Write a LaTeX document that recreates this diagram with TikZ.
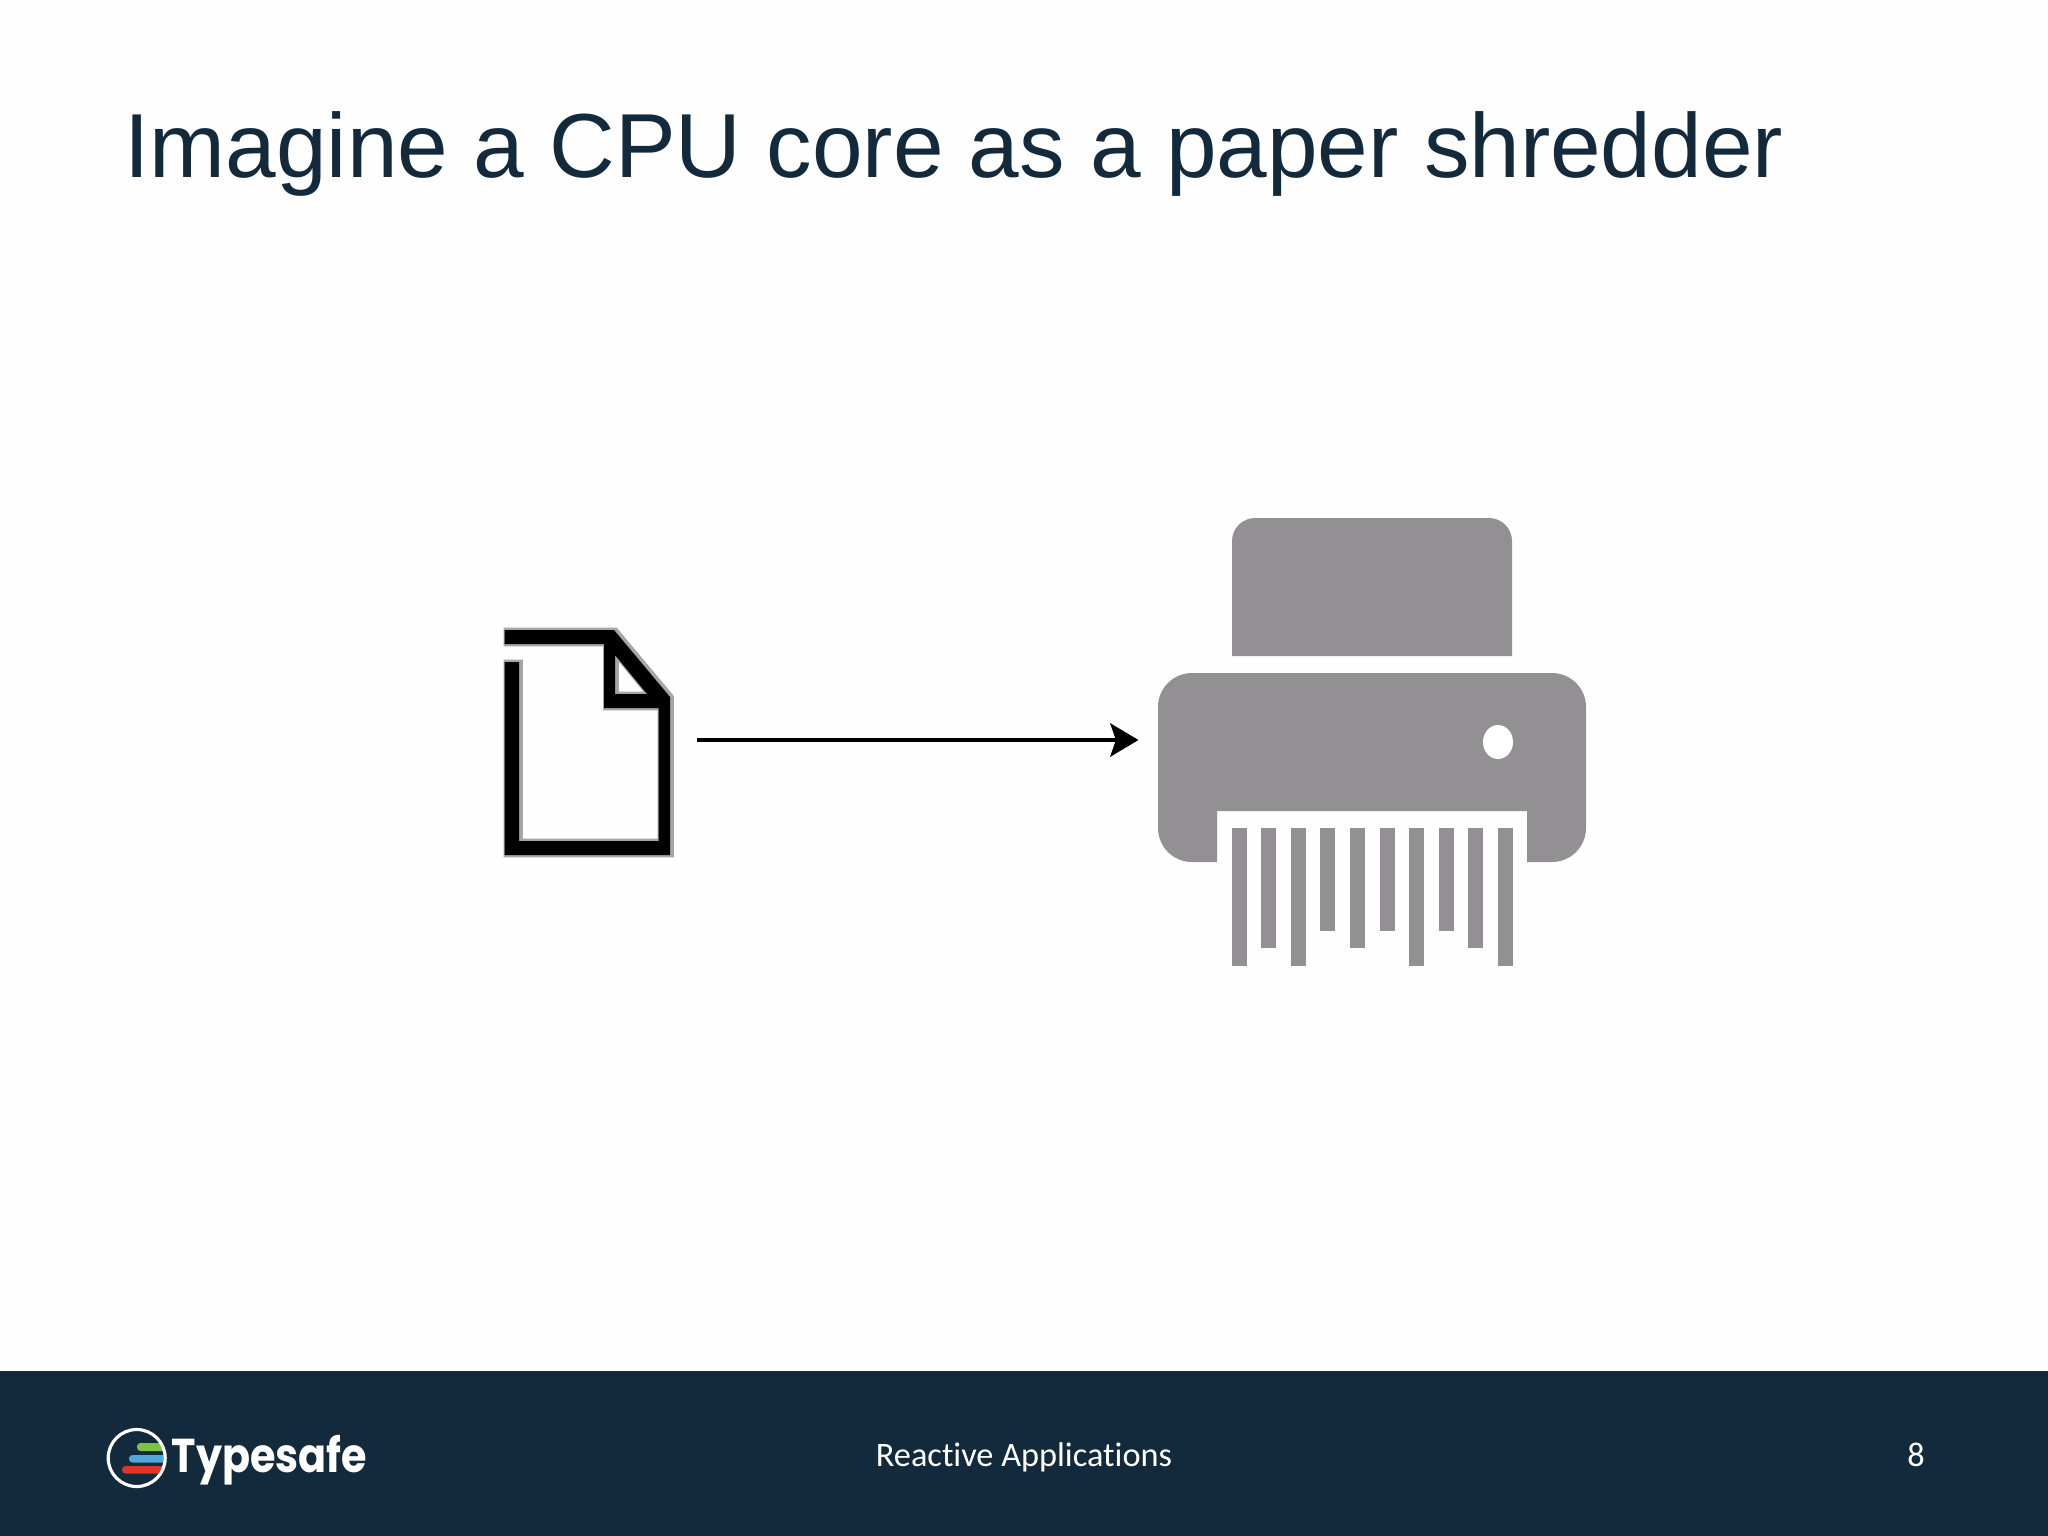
\documentclass[tikz,border=0pt]{standalone}
\usepackage{fontspec}
\usepackage{tikz}
\usetikzlibrary{arrows.meta,calc,positioning}
\setmainfont{Liberation Sans}
\newfontfamily\footfont[Ligatures=NoCommon]{Carlito}
\newfontfamily\logofont{Poppins}
\definecolor{navy}{HTML}{132A3D}
\definecolor{shred}{HTML}{929093}
\definecolor{paper}{HTML}{FEFEFE}
\definecolor{logogreen}{HTML}{7DC242}
\definecolor{logoblue}{HTML}{4FA8D8}
\definecolor{logored}{HTML}{E0352B}
\newcommand{\pagepath}{(504.5,630) -- (614,630) -- (670,697) -- (670,855) -- (504.5,855)
    -- (504.5,662) -- (519,662) -- (519,841) -- (658.5,841) -- (658.5,708) -- (604,708)
    -- (604,644) -- (504.5,644) -- cycle
    (615,655) -- (647,694) -- (615,694) -- cycle}

\begin{document}
\begin{tikzpicture}[x=0.01cm,y=-0.01cm,
    footlabel/.style={text=white,inner sep=0pt,font=\footfont\fontsize{9.75}{12}\selectfont}]
  \useasboundingbox (0,0) rectangle (2048,1536);
  \fill[paper] (0,0) rectangle (2048,1536);

  % title
  \node[anchor=base west,inner sep=0pt,text=navy,font=\fontsize{25.87}{31}\selectfont]
    (title) at (124,177) {Imagine a CPU core as a paper shredder};

  % page icon
  \draw[black!35,line width=1.4pt,even odd rule,xshift=0.015cm] \pagepath;
  \fill[black,even odd rule] \pagepath;

  % arrow
  \coordinate (pageout) at (696.5,740);
  \coordinate (shredin) at (1138.5,740);
  \draw[-{Stealth[length=8pt,width=9.4pt,inset=1.6pt]},line width=1.4pt] (pageout) -- (shredin);

  % shredder
  \fill[shred] (1232,656) [rounded corners=0.23cm] -- (1232,518) -- (1512,518)
    [sharp corners] -- (1512,656) -- cycle;
  \fill[shred] (1217,862) [rounded corners=0.34cm] -- (1158,862) -- (1158,673) -- (1586,673)
    -- (1586,862) [sharp corners] -- (1527,862) -- (1527,811) -- (1217,811) -- cycle;
  \fill[white] (1498,742) ellipse [x radius=15,y radius=17];
  \foreach \xs/\yb in {1232/966, 1261/948, 1291/966, 1320/931, 1350/948,
                       1380/931, 1409/966, 1439/931, 1468/948, 1498/966}{
    \fill[shred] (\xs,828) rectangle (\xs+15,\yb);}

  % footer
  \fill[navy] (0,1371) rectangle (2048,1536);
  \begin{scope}
    \clip (136.7,1458) circle [radius=29];
    \fill[logogreen,rounded corners=0.035cm] (137,1443) rectangle (175,1451);
    \fill[logoblue,rounded corners=0.035cm] (129,1455) rectangle (175,1462.5);
    \fill[logored,rounded corners=0.035cm] (122,1466) rectangle (175,1473.5);
  \end{scope}
  \draw[white,line width=0.9pt] (136.7,1458) circle [radius=28.5];
  \node[anchor=base west,inner sep=0pt,text=white,font=\logofont\bfseries\fontsize{13.5}{16}\selectfont]
    (logoname) at (171,1472) {\scalebox{0.87}[1]{Typesafe}};
  \node[footlabel,anchor=base] (slidename) at (1024,1466) {Reactive Applications};
  \node[footlabel,anchor=base] (slidenum) at (1916,1466) {8};
\end{tikzpicture}
\end{document}
